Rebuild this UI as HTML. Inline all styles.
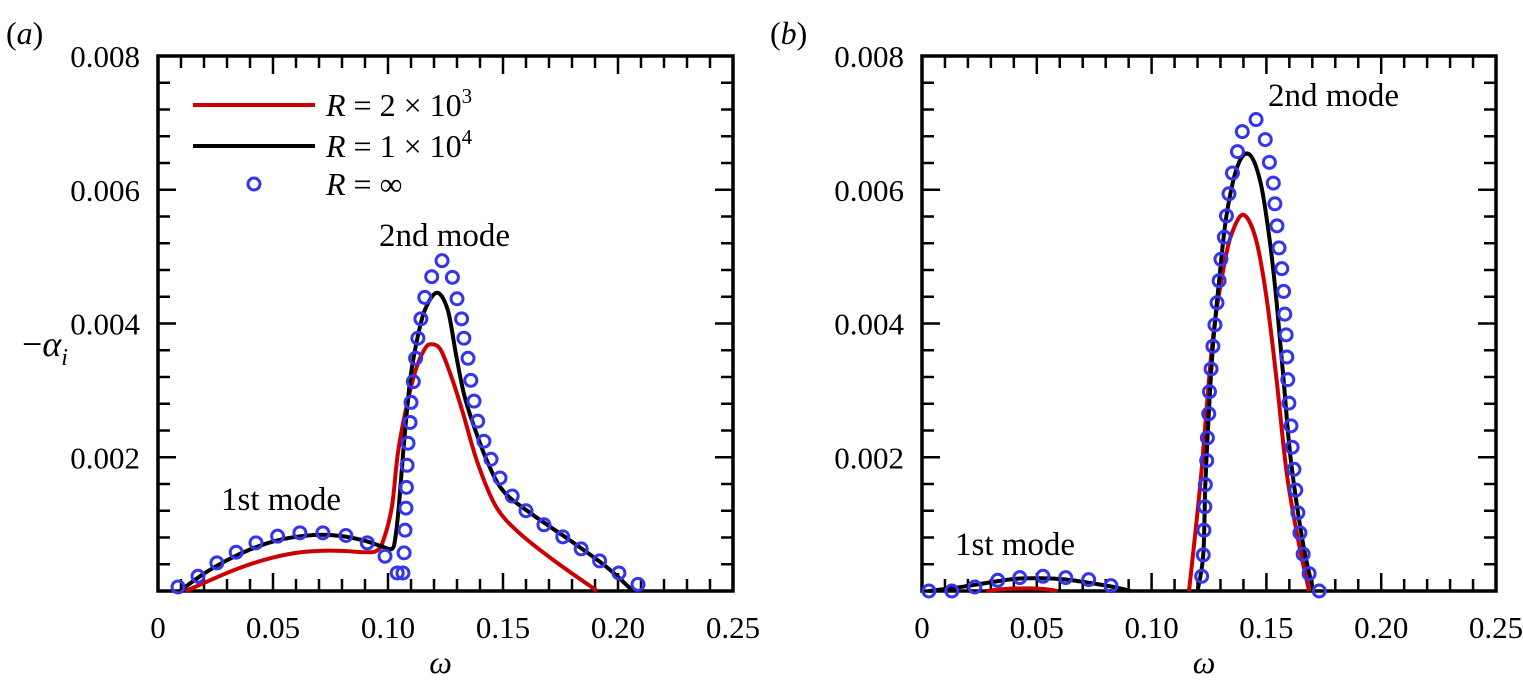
<!DOCTYPE html>
<html><head><meta charset="utf-8"><style>
html,body{margin:0;padding:0;background:#fff;}
svg{display:block;}
text{font-family:"Liberation Serif","DejaVu Serif",serif;}
</style></head><body>
<svg id="chart" width="1523" height="681" viewBox="0 0 1523 681" xmlns="http://www.w3.org/2000/svg"></svg>
<script>
// Panel (a) data
const aRed = [[0.012,0],[0.02,0.00012],[0.03,0.00027],[0.04,0.0004],[0.05,0.0005],[0.06,0.00057],[0.07,0.0006],[0.08,0.0006],[0.09,0.00058],[0.095,0.0006],[0.098,0.00076],[0.1017,0.00126],[0.1043,0.00206],[0.108,0.00275],[0.112,0.0033],[0.116,0.00362],[0.119,0.00369],[0.123,0.0036],[0.128,0.00316],[0.1326,0.00266],[0.139,0.00191],[0.147,0.00126],[0.157,0.00087],[0.172,0.00046],[0.191,0]];
const aBlack = [[0.0095,0],[0.02,0.00026],[0.03,0.00046],[0.04,0.00062],[0.05,0.00074],[0.06,0.00081],[0.07,0.00084],[0.08,0.00082],[0.09,0.00075],[0.097,0.00067],[0.1017,0.00063],[0.1032,0.0008],[0.1048,0.0013],[0.1068,0.00215],[0.1096,0.00315],[0.1126,0.00375],[0.116,0.0042],[0.1213,0.00446],[0.126,0.0042],[0.1295,0.00355],[0.133,0.00295],[0.137,0.0025],[0.143,0.00195],[0.15,0.0015],[0.1617,0.00117],[0.179,0.00076],[0.195,0.00036],[0.2065,0]];
const aInf = [[0.0087,0.00006],[0.0174,0.00022],[0.0256,0.00042],[0.034,0.00058],[0.0426,0.00072],[0.052,0.00082],[0.0617,0.00087],[0.0717,0.00087],[0.0817,0.00083],[0.091,0.00072],[0.0987,0.00052],[0.104,0.00027],[0.1065,0.00027],[0.107,0.00057],[0.1074,0.00091],[0.1078,0.00124],[0.108,0.00155],[0.1083,0.00188],[0.1087,0.00221],[0.1096,0.00252],[0.11,0.00282],[0.111,0.00313],[0.112,0.00348],[0.113,0.00378],[0.1143,0.00407],[0.116,0.00439],[0.119,0.0047],[0.1235,0.00494],[0.128,0.00469],[0.130,0.00437],[0.132,0.00407],[0.133,0.00378],[0.1348,0.00348],[0.136,0.00315],[0.1374,0.00284],[0.139,0.00254],[0.1417,0.00224],[0.1448,0.00197],[0.1487,0.00169],[0.154,0.00142],[0.160,0.0012],[0.1678,0.00099],[0.176,0.00081],[0.184,0.00063],[0.192,0.00045],[0.2004,0.00027],[0.2087,0.0001]];
// Panel (b) data
const bRed1 = [[0.028,0],[0.036,0.00003],[0.045,0.00004],[0.053,0.00003],[0.059,0]];
const bBlack1 = [[0.003,0],[0.015,0.00005],[0.028,0.00012],[0.04,0.00018],[0.0514,0.00019],[0.063,0.00017],[0.075,0.00011],[0.085,0.00005],[0.0909,0]];
const bRed2 = [[0.1163,0],[0.1213,0.00163],[0.1267,0.00378],[0.132,0.00495],[0.136,0.00544],[0.1404,0.00562],[0.1455,0.00525],[0.15,0.0044],[0.1544,0.00317],[0.1589,0.00175],[0.1642,0.0007],[0.1686,0]];
const bBlack2 = [[0.120,0],[0.1225,0.00054],[0.1234,0.00159],[0.1249,0.00265],[0.1267,0.00366],[0.1294,0.00464],[0.1326,0.00561],[0.1374,0.00635],[0.1425,0.00653],[0.1475,0.0061],[0.1516,0.0052],[0.1545,0.0043],[0.1575,0.00315],[0.1607,0.00194],[0.166,0.0007],[0.1705,0]];
const bInf = [[0.003,0],[0.013,0],[0.023,0.00006],[0.033,0.00016],[0.0426,0.0002],[0.0527,0.00022],[0.0626,0.0002],[0.0726,0.00017],[0.0823,0.00008],[0.1218,0.00022],[0.1225,0.00054],[0.1228,0.00091],[0.1232,0.00126],[0.1234,0.00159],[0.124,0.00195],[0.1243,0.00229],[0.1249,0.00265],[0.1252,0.00298],[0.1259,0.00332],[0.1267,0.00366],[0.1276,0.00398],[0.1285,0.00431],[0.1294,0.00464],[0.1302,0.00496],[0.1317,0.00529],[0.1326,0.00561],[0.1337,0.00594],[0.1352,0.00625],[0.1374,0.00657],[0.1395,0.00687],[0.1455,0.00705],[0.1495,0.00675],[0.1513,0.00641],[0.153,0.0061],[0.1537,0.00579],[0.1546,0.00546],[0.1555,0.00513],[0.1567,0.00482],[0.1575,0.00448],[0.158,0.00414],[0.1586,0.00383],[0.1589,0.0035],[0.1593,0.00316],[0.1598,0.00281],[0.1607,0.00247],[0.1612,0.00215],[0.162,0.00182],[0.1628,0.00151],[0.1637,0.00117],[0.1646,0.00087],[0.166,0.00055],[0.1686,0.00026],[0.173,0]];
const xTickLabels = ["0","0.05","0.10","0.15","0.20","0.25"];
const yTickLabels = ["0.002","0.004","0.006","0.008"];

const NS = "http://www.w3.org/2000/svg";
const svg = document.getElementById('chart');
function mk(tag, attrs, parent){const e=document.createElementNS(NS,tag);for(const k in attrs)e.setAttribute(k,attrs[k]);(parent||svg).appendChild(e);return e;}

function panel(x0, x1, y0, y1, label, name){
  const g = mk('g',{});
  
  
  const sx = w => x0 + (w/0.25)*(x1-x0);
  const sy = v => y1 - (v/0.008)*(y1-y0);
  for(let i=0;i<=25;i++){
    const x=sx(i*0.01), L=(i%5===0)?18:12;
    const t1=mk('line',{x1:x,y1:y1,x2:x,y2:y1-L,stroke:'#000','stroke-width':2.5},g);
    
    
    mk('line',{x1:x,y1:y0,x2:x,y2:y0+L,stroke:'#000','stroke-width':2.5},g);
  }
  for(let i=0;i<=20;i++){
    const y=sy(i*0.0004), L=(i%5===0)?18:12;
    const t2=mk('line',{x1:x0,y1:y,x2:x0+L,y2:y,stroke:'#000','stroke-width':2.5},g);
    
    
    mk('line',{x1:x1,y1:y,x2:x1-L,y2:y,stroke:'#000','stroke-width':2.5},g);
  }
  const box=mk('rect',{x:x0,y:y0,width:x1-x0,height:y1-y0,fill:'none',stroke:'#000','stroke-width':3.5},g);
  
  
  xTickLabels.forEach((t,i)=>{
    const e=mk('text',{x:sx(i*0.05),y:y1+47,'font-size':31,'text-anchor':'middle'},g);
    e.textContent=t;
    
    
  });
  yTickLabels.forEach((t,i)=>{
    const e=mk('text',{x:x0-18,y:sy((i+1)*0.002)+11,'font-size':31,'text-anchor':'end'},g);
    e.textContent=t;
    
    
  });
  const pl=mk('text',{x:x0-152,y:y0-12,'font-size':32},g);
  pl.innerHTML='(<tspan font-style="italic">'+label+'</tspan>)';
  
  
  const xt=mk('text',{x:(x0+x1)/2-5,y:y1+82,'font-size':32,'font-style':'italic','text-anchor':'middle'},g);
  xt.textContent='ω';
  
  
  return {g,sx,sy};
}

function pathD(pts,sx,sy){
  const P=pts.map(p=>[sx(p[0]),sy(p[1])]);
  let d='M'+P[0][0]+','+P[0][1];
  for(let i=0;i<P.length-1;i++){
    const p0=P[Math.max(0,i-1)],p1=P[i],p2=P[i+1],p3=P[Math.min(P.length-1,i+2)];
    const c1=[p1[0]+(p2[0]-p0[0])/6,p1[1]+(p2[1]-p0[1])/6];
    const c2=[p2[0]-(p3[0]-p1[0])/6,p2[1]-(p3[1]-p1[1])/6];
    d+=' C'+c1[0]+','+c1[1]+' '+c2[0]+','+c2[1]+' '+p2[0]+','+p2[1];
  }
  return d;
}
function line(P,pts,color,name){
  const e=mk('path',{d:pathD(pts,P.sx,P.sy),fill:'none',stroke:color,'stroke-width':4,'stroke-linejoin':'round'},P.g);
  
  
}
function dots(P,pts,name){
  pts.forEach(p=>{
    const c=mk('circle',{cx:P.sx(p[0]),cy:P.sy(p[1]),r:6,fill:'none',stroke:'#3535f0','stroke-width':3},P.g);
    
    
  });
}
function txt(x,y,s,name,size){
  const e=mk('text',{x:x,y:y,'font-size':size||33});
  e.innerHTML=s;
  
  
  return e;
}

const A=panel(158,733,56,591,'a','panel-a');
const B=panel(922,1496,56,591,'b','panel-b');
line(A,aRed,'#cc0000','series-r2e3');
line(A,aBlack,'#000','series-r1e4');
dots(A,aInf,'series-rinf-point');
line(B,bRed1,'#cc0000','series-r2e3-mode1');
line(B,bBlack1,'#000','series-r1e4-mode1');
line(B,bRed2,'#cc0000','series-r2e3-mode2');
line(B,bBlack2,'#000','series-r1e4-mode2');
dots(B,bInf,'series-rinf-point');

txt(22,356,'−<tspan font-style="italic">α</tspan><tspan font-style="italic" font-size="24" dy="9">i</tspan>','y-axis-title',36);
txt(379,246,'2nd mode','annotation-2nd-mode-a');
txt(221,510,'1st mode','annotation-1st-mode-a');
txt(1268,106,'2nd mode','annotation-2nd-mode-b');
txt(955,555,'1st mode','annotation-1st-mode-b');

const lg=mk('g',{});


const l1=mk('line',{x1:193,y1:105,x2:315,y2:105,stroke:'#cc0000','stroke-width':4},lg);


const l2=mk('line',{x1:193,y1:146,x2:315,y2:146,stroke:'#000','stroke-width':4},lg);


const l3=mk('circle',{cx:254,cy:184,r:6,fill:'none',stroke:'#3535f0','stroke-width':3},lg);


txt(326,116,'<tspan font-style="italic">R</tspan> = 2 × 10<tspan font-size="21" dy="-13">3</tspan>','legend-entry-r2e3',32);
txt(326,157,'<tspan font-style="italic">R</tspan> = 1 × 10<tspan font-size="21" dy="-13">4</tspan>','legend-entry-r1e4',32);
txt(326,195,'<tspan font-style="italic">R</tspan> = ∞','legend-entry-rinf',32);
</script>
</body></html>
